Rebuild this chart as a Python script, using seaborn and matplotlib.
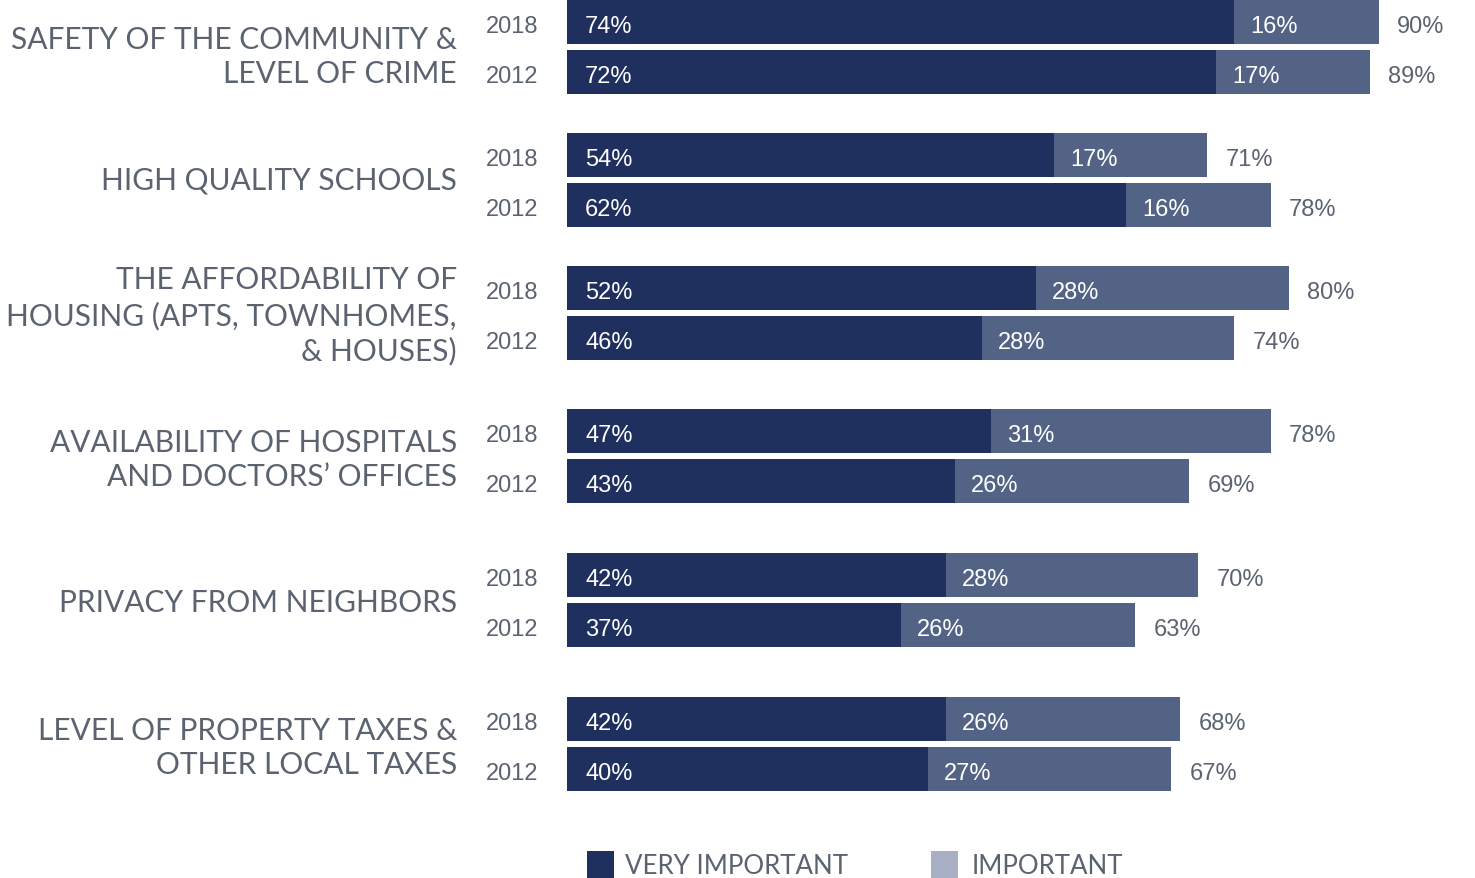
import matplotlib
matplotlib.use("Agg")
import matplotlib.pyplot as plt
from matplotlib.patches import Rectangle
import seaborn as sns
import pandas as pd

# ---- data -------------------------------------------------------------
categories = [
    "SAFETY OF THE COMMUNITY &\nLEVEL OF CRIME",
    "HIGH QUALITY SCHOOLS",
    "THE AFFORDABILITY OF\nHOUSING (APTS, TOWNHOMES,\n& HOUSES)",
    "AVAILABILITY OF HOSPITALS\nAND DOCTORS\u2019 OFFICES",
    "PRIVACY FROM NEIGHBORS",
    "LEVEL OF PROPERTY TAXES &\nOTHER LOCAL TAXES",
]
years = ["2018", "2012"]
very_2018 = [74, 54, 52, 47, 42, 42]
imp_2018 = [16, 17, 28, 31, 28, 26]
very_2012 = [72, 62, 46, 43, 37, 40]
imp_2012 = [17, 16, 28, 26, 26, 27]
legend_labels = ["VERY IMPORTANT", "IMPORTANT"]

# ---- styling / layout -------------------------------------------------
W, H = 1475, 879
DARK = "#1f2f5e"
MID = "#536385"
LIGHT = "#a9b0c5"
TEXT = "#5b6370"
CAT_FONT = ["Lato", "DejaVu Sans"]
NUM_FONT = ["Liberation Sans", "DejaVu Sans"]
CAT_SIZE = 21.5
LEG_SIZE = 18.6
NUM_SIZE = 17

group_centres = [48, 181, 314, 457, 601, 745]   # vertical pixel centre of each pair
label_nudge = [9, 0, 2, 3, 2, 3]                 # optical shift of the row titles
pair_offset = 25                                 # 2018 above, 2012 below
px_per_pct = 9.02
axes_left = 567

sns.set_theme(style="white")
plt.rcParams["font.family"] = CAT_FONT

rows = []
for i, cat in enumerate(categories):
    for yr, very, imp, sign in ((years[0], very_2018[i], imp_2018[i], -1),
                                (years[1], very_2012[i], imp_2012[i], 1)):
        rows.append({
            "category": cat,
            "year": yr,
            "very": very,
            "important": imp,
            "total": very + imp,
            "pos": group_centres[i] + sign * pair_offset,
        })
df = pd.DataFrame(rows)

fig = plt.figure(figsize=(W / 100, H / 100), dpi=100)
ax = fig.add_axes([axes_left / W, 0, 1 - axes_left / W, 1])

# stacked bars: full total in the lighter tone, "very important" on top
sns.barplot(data=df, x="total", y="pos", orient="h", native_scale=True,
            color=MID, saturation=1, width=0.88, linewidth=0, ax=ax)
sns.barplot(data=df, x="very", y="pos", orient="h", native_scale=True,
            color=DARK, saturation=1, width=0.88, linewidth=0, ax=ax)

ax.set_xlim(0, (W - axes_left) / px_per_pct)
ax.set_ylim(H, 0)
ax.axis("off")

pad = 16 / px_per_pct
dy = 4  # optical nudge so digits sit centred on the bar
for _, r in df.iterrows():
    y = r["pos"] + dy
    ax.text(18 / px_per_pct, y, f"{r['very']}%", color="white",
            fontsize=NUM_SIZE, family=NUM_FONT, va="center", ha="left")
    ax.text(r["very"] + pad, y, f"{r['important']}%", color="white",
            fontsize=NUM_SIZE, family=NUM_FONT, va="center", ha="left")
    ax.text(r["total"] + pad + 2 / px_per_pct, y, f"{r['total']}%",
            color=TEXT, fontsize=NUM_SIZE, family=NUM_FONT, va="center", ha="left")
    fig.text(538 / W, 1 - y / H, r["year"], color=TEXT, fontsize=NUM_SIZE,
             family=NUM_FONT, va="center", ha="right")

for cat, yc, nudge in zip(categories, group_centres, label_nudge):
    fig.text(457 / W, 1 - (yc + nudge) / H, cat, color=TEXT, fontsize=CAT_SIZE,
             family=CAT_FONT, va="center", ha="right",
             multialignment="right", linespacing=1.29)

# legend along the bottom edge
for (x0, tx), label, col in zip(((587, 625), (931, 972)), legend_labels, (DARK, LIGHT)):
    fig.patches.append(Rectangle((x0 / W, 1 - 879 / H), 27 / W, 27 / H,
                                 transform=fig.transFigure, color=col, lw=0))
    fig.text(tx / W, 1 - 874 / H, label, color=TEXT, fontsize=LEG_SIZE,
             family=CAT_FONT, va="baseline", ha="left")

fig.savefig("out.png", dpi=100)
